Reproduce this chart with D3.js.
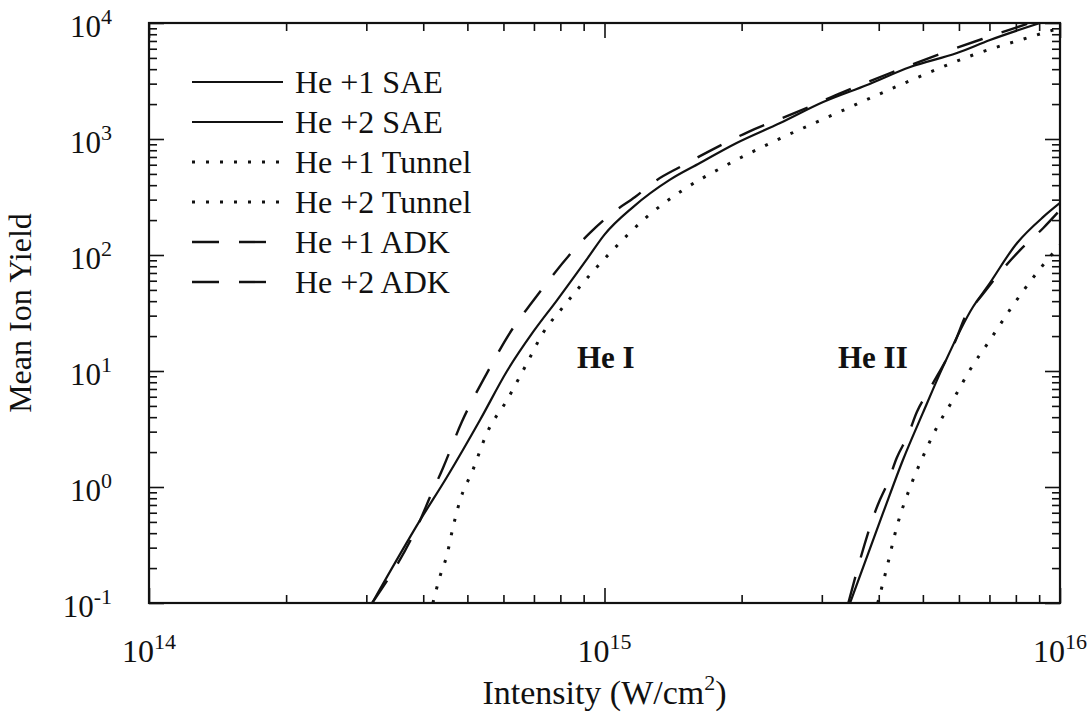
<!DOCTYPE html>
<html>
<head>
<meta charset="utf-8">
<script src="https://cdn.jsdelivr.net/npm/d3@7"></script>
<style>
body { margin: 0; background: #fff; }
svg { font-family: "Liberation Serif", "Times New Roman", serif; }
</style>
</head>
<body>
<div id="chart"></div>
<script>
// intensity (W/cm^2) and mean ion yield
var he1SaeI = [3.09e14, 3.94e14, 4.51e14, 5.33e14, 6.11e14, 6.97e14, 7.87e14, 9.2e14, 1.0e15, 1.155e15, 1.39e15, 1.62e15, 1.95e15, 2.43e15, 3.02e15, 3.77e15, 4.69e15, 5.94e15, 7.02e15, 9.04e15];
var he1SaeY = [0.1, 0.52, 1.22, 3.78, 10, 21.7, 40.9, 95, 150, 259, 444, 621, 924, 1373, 2084, 2925, 4177, 5510, 7130, 10000];

var he2SaeI = [3.46e15, 4.09e15, 4.52e15, 5.0e15, 5.53e15, 6.44e15, 6.92e15, 8.05e15, 9.19e15, 1e16];
var he2SaeY = [0.1, 0.6, 1.71, 4.35, 10.8, 35.6, 53, 127, 213, 281];

var he1TunI = [4.2e14, 4.35e14, 4.51e14, 4.65e14, 4.82e14, 5.14e14, 5.52e14, 6.11e14, 6.76e14, 7.33e14, 8.11e14, 9.29e14, 1.028e15, 1.239e15, 1.486e15, 1.82e15, 2.39e15, 3.24e15, 4.61e15, 6.44e15, 8.59e15, 1e16];
var he1TunY = [0.1, 0.168, 0.26, 0.45, 0.77, 1.4, 2.92, 5.62, 11.7, 21.3, 35.6, 67.3, 104, 213, 363, 574, 979, 1675, 3098, 5297, 7570, 9060];

var he2TunI = [3.98e15, 4.17e15, 4.38e15, 4.69e15, 5.0e15, 5.37e15, 5.82e15, 6.34e15, 7.02e15, 7.76e15, 8.89e15, 1e16];
var he2TunY = [0.1, 0.204, 0.45, 1.0, 1.82, 3.29, 5.62, 10.2, 18.5, 33.6, 70, 122];

var he1AdkI = [3.09e14, 3.94e14, 4.14e14, 4.42e14, 4.86e14, 5.52e14, 6.3e14, 6.86e14, 9.29e14, 1.04e15, 1.167e15, 1.304e15, 1.465e15, 2.065e15, 2.65e15, 3.34e15, 4.24e15, 5.37e15, 6.75e15, 8.59e15];
var he1AdkY = [0.1, 0.52, 0.82, 1.46, 3.63, 9.6, 23.5, 37, 155, 230, 316, 444, 574, 1148, 1711, 2541, 3707, 5297, 7280, 10000];

var he2AdkI = [3.43e15, 3.98e15, 4.19e15, 4.38e15, 4.64e15, 4.85e15, 5.19e15, 5.88e15, 6.25e15, 6.61e15, 7.46e15, 8.17e15, 9.19e15, 1e16];
var he2AdkY = [0.1, 0.7, 1.1, 1.78, 2.81, 4.43, 7.13, 17.8, 31.6, 40.9, 74.3, 110, 171, 244];

var legendNames = ["He +1 SAE", "He +2 SAE", "He +1 Tunnel", "He +2 Tunnel", "He +1 ADK", "He +2 ADK"];
var xMajor = [1e14, 1e15, 1e16];
var yMajor = [1e-1, 1e0, 1e1, 1e2, 1e3, 1e4];

// line styles
var styles = {
    solid: { dash: null, width: 2.2 },
    dot: { dash: "3,11", width: 3 },
    dash: { dash: "27,20", width: 2.4 }
};

var series = [
    { name: legendNames[0], xs: he1SaeI, ys: he1SaeY, style: "solid" },
    { name: legendNames[1], xs: he2SaeI, ys: he2SaeY, style: "solid" },
    { name: legendNames[2], xs: he1TunI, ys: he1TunY, style: "dot" },
    { name: legendNames[3], xs: he2TunI, ys: he2TunY, style: "dot" },
    { name: legendNames[4], xs: he1AdkI, ys: he1AdkY, style: "dash" },
    { name: legendNames[5], xs: he2AdkI, ys: he2AdkY, style: "dash" }
];

var svgWidth = 1091;
var svgHeight = 715;
var margin = { top: 23, right: 31, bottom: 112, left: 149 };
var width = svgWidth - margin.left - margin.right;
var height = svgHeight - margin.top - margin.bottom;

var svg = d3.select("#chart")
    .append("svg")
    .attr("width", svgWidth)
    .attr("height", svgHeight);

var chartGroup = svg.append("g")
    .attr("transform", `translate(${margin.left}, ${margin.top})`);

var xLogScale = d3.scaleLog().domain([1e14, 1e16]).range([0, width]);
var yLogScale = d3.scaleLog().domain([1e-1, 1e4]).range([height, 0]);

// minor ticks 2..9 in every decade
function minors(lo, hi) {
    var out = [];
    for (var e = lo; e < hi; e++) {
        for (var m = 2; m <= 9; m++) out.push(m * Math.pow(10, e));
    }
    return out;
}
var xMinor = minors(14, 16);
var yMinor = minors(-1, 4);

function tickAxis(axisFn, scale, values, size, transform) {
    var g = chartGroup.append("g")
        .attr("transform", transform)
        .call(axisFn(scale).tickValues(values).tickSizeInner(size).tickSizeOuter(0).tickFormat(""));
    g.select(".domain").remove();
    g.selectAll("line").attr("stroke", "#111").attr("stroke-width", 1.6);
    return g;
}

// ticks on all four sides, pointing inward
tickAxis(d3.axisBottom, xLogScale, xMajor, -15, `translate(0, ${height})`);
tickAxis(d3.axisBottom, xLogScale, xMinor, -8, `translate(0, ${height})`);
tickAxis(d3.axisTop, xLogScale, xMajor, -15, "translate(0, 0)");
tickAxis(d3.axisTop, xLogScale, xMinor, -8, "translate(0, 0)");
tickAxis(d3.axisLeft, yLogScale, yMajor, -15, "translate(0, 0)");
tickAxis(d3.axisLeft, yLogScale, yMinor, -8, "translate(0, 0)");
tickAxis(d3.axisRight, yLogScale, yMajor, -15, `translate(${width}, 0)`);
tickAxis(d3.axisRight, yLogScale, yMinor, -8, `translate(${width}, 0)`);

// frame
chartGroup.append("rect")
    .attr("width", width)
    .attr("height", height)
    .attr("fill", "none")
    .attr("stroke", "#111")
    .attr("stroke-width", 2.2);

// power-of-ten labels
function powLabel(sel, exp) {
    sel.append("tspan").text("10");
    sel.append("tspan").attr("dy", -13).attr("font-size", 22).text(exp);
}

xMajor.forEach(function(v) {
    var t = chartGroup.append("text")
        .attr("x", xLogScale(v))
        .attr("y", height + 59)
        .attr("text-anchor", "middle")
        .attr("font-size", 32)
        .attr("fill", "#111");
    powLabel(t, Math.round(Math.log10(v)));
});

yMajor.forEach(function(v) {
    var t = chartGroup.append("text")
        .attr("x", -37)
        .attr("y", yLogScale(v) + 14)
        .attr("text-anchor", "end")
        .attr("font-size", 31)
        .attr("fill", "#111");
    powLabel(t, Math.round(Math.log10(v)));
});

// axis titles
var xTitle = chartGroup.append("text")
    .attr("x", width / 2)
    .attr("y", height + 101)
    .attr("text-anchor", "middle")
    .attr("font-size", 34)
    .attr("fill", "#111");
xTitle.append("tspan").text("Intensity (W/cm");
xTitle.append("tspan").attr("dy", -14).attr("font-size", 22).text("2");
xTitle.append("tspan").attr("dy", 14).text(")");

chartGroup.append("text")
    .attr("transform", `translate(${-118}, ${height / 2}) rotate(-90)`)
    .attr("text-anchor", "middle")
    .attr("font-size", 32)
    .attr("fill", "#111")
    .text("Mean Ion Yield");

// curves
chartGroup.append("clipPath")
    .attr("id", "plotClip")
    .append("rect")
    .attr("width", width)
    .attr("height", height);

var lineGen = d3.line()
    .x(d => xLogScale(d[0]))
    .y(d => yLogScale(d[1]))
    .curve(d3.curveMonotoneX);

var curveGroup = chartGroup.append("g").attr("clip-path", "url(#plotClip)");
series.forEach(function(s) {
    var pts = s.xs.map((x, i) => [x, s.ys[i]]);
    curveGroup.append("path")
        .attr("d", lineGen(pts))
        .attr("fill", "none")
        .attr("stroke", "#111")
        .attr("stroke-width", styles[s.style].width)
        .attr("stroke-dasharray", styles[s.style].dash);
});

// legend
var legend = chartGroup.append("g").attr("transform", "translate(43, 59)");
series.forEach(function(s, i) {
    var row = legend.append("g").attr("transform", `translate(0, ${i * 40})`);
    row.append("line")
        .attr("x1", 0)
        .attr("x2", s.style === "dot" ? 88 : (s.style === "dash" ? 74 : 91))
        .attr("y1", 0)
        .attr("y2", 0)
        .attr("stroke", "#111")
        .attr("stroke-width", styles[s.style].width)
        .attr("stroke-dasharray", styles[s.style].dash);
    row.append("text")
        .attr("x", 103)
        .attr("y", 11)
        .attr("font-size", 32)
        .attr("fill", "#111")
        .text(s.name);
});

// region labels
chartGroup.append("text")
    .attr("x", 428)
    .attr("y", 345)
    .attr("font-size", 31)
    .attr("font-weight", "bold")
    .attr("fill", "#111")
    .text("He I");

chartGroup.append("text")
    .attr("x", 689)
    .attr("y", 345)
    .attr("font-size", 31)
    .attr("font-weight", "bold")
    .attr("fill", "#111")
    .text("He II");
</script>
</body>
</html>
